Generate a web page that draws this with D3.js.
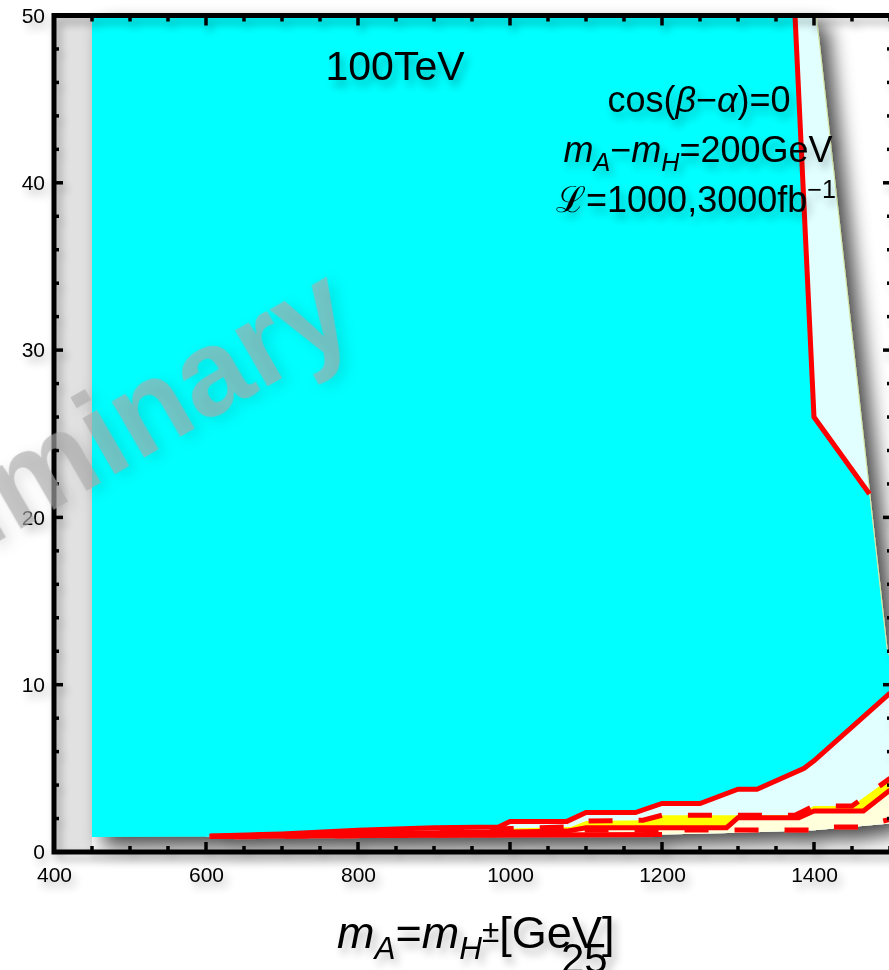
<!DOCTYPE html>
<html>
<head>
<meta charset="utf-8">
<script src="https://cdn.jsdelivr.net/npm/d3@7"></script>
<style>
  body { margin: 0; background: #fff; }
  svg { display: block; }
  text { font-family: "Liberation Sans", Arial, Helvetica, sans-serif; }
</style>
</head>
<body>
<svg id="chart" width="889" height="970"></svg>
<script>
// ---- axis setup -------------------------------------------------------
const xDomain = [400, 1500];        // m_A = m_H± [GeV]
const yDomain = [0, 50];            // tan β
const xMajorTicks = [400, 600, 800, 1000, 1200, 1400];
const yMajorTicks = [0, 10, 20, 30, 40, 50];

// ---- exclusion regions -------------------------------------------------
const regionLeftMass = 450;
// upper-right edge of the 1000 fb^-1 region
const innerEdgeM = [1375, 1400, 1473];
const innerEdgeT = [50, 26, 21.4];
// upper-right edge of the 3000 fb^-1 region
const outerEdgeM = [1403, 1496, 1500];
const outerEdgeT = [50, 12.2, 11.6];
// lower edge of the scanned area
const bottomEdgeM = [450, 600, 1000, 1200, 1300, 1400, 1500];
const bottomEdgeT = [0.9, 0.92, 1.0, 1.05, 1.15, 1.3, 1.7];

// ---- low tan β contours ------------------------------------------------
const upperSolidM = [605, 700, 800, 900, 985, 1000, 1075, 1100, 1165, 1200, 1250, 1300, 1325, 1387, 1400, 1500];
const upperSolidT = [0.96, 1.08, 1.3, 1.45, 1.5, 1.83, 1.83, 2.36, 2.36, 2.9, 2.9, 3.75, 3.75, 5.0, 5.45, 9.5];
const upperDashedM = [605, 800, 1000, 1080, 1100, 1175, 1200, 1375, 1400, 1450, 1500];
const upperDashedT = [0.93, 1.15, 1.4, 1.5, 1.85, 1.9, 2.2, 2.2, 2.75, 2.75, 4.4];
const middleSolidM = [605, 800, 1000, 1075, 1100, 1285, 1300, 1380, 1400, 1465, 1500];
const middleSolidT = [0.93, 1.1, 1.2, 1.25, 1.45, 1.45, 2.05, 2.05, 2.45, 2.45, 3.7];
const lowerDashedM = [605, 1000, 1075, 1100, 1400, 1410, 1460, 1500];
const lowerDashedT = [0.9, 1.05, 1.15, 1.32, 1.32, 1.5, 1.5, 1.95];
const lowerSolidM = [605, 800, 1000, 1200];
const lowerSolidT = [0.92, 0.98, 1.02, 1.05];

const zip = (ms, ts) => ms.map((m, i) => [m, ts[i]]);
const from = (pts, m0) => pts.filter(p => p[0] >= m0);

const svg = d3.select("#chart");
const x = d3.scaleLinear().domain(xDomain).range([54, 890]);
const y = d3.scaleLinear().domain(yDomain).range([852, 15.5]);
const line = d3.line().x(d => x(d[0])).y(d => y(d[1]));
const poly = pts => line(pts) + "Z";

// ---- filters -----------------------------------------------------------
const defs = svg.append("defs");
function shadow(id, blur, dx, dy, op) {
  const f = defs.append("filter").attr("id", id)
    .attr("x", "-20%").attr("y", "-20%").attr("width", "150%").attr("height", "150%");
  f.append("feGaussianBlur").attr("in", "SourceAlpha").attr("stdDeviation", blur);
  f.append("feOffset").attr("dx", dx).attr("dy", dy);
  f.append("feComponentTransfer").append("feFuncA").attr("type", "linear").attr("slope", op);
  const m = f.append("feMerge");
  m.append("feMergeNode");
  m.append("feMergeNode").attr("in", "SourceGraphic");
}
shadow("plotShadow", 10, 11, 10, 0.72);
shadow("softShadow", 4, 4, 6, 0.3);
const haze = defs.append("filter").attr("id", "haze")
  .attr("x", "-20%").attr("y", "-20%").attr("width", "140%").attr("height", "140%");
haze.append("feGaussianBlur").attr("stdDeviation", 7);

// ---- background strip left of the scan --------------------------------
svg.append("rect")
  .attr("x", x(400)).attr("y", y(50))
  .attr("width", x(regionLeftMass) - x(400)).attr("height", y(0) - y(50))
  .attr("fill", "#e1e1e1");

// ---- filled regions + contour lines ------------------------------------
const plot = svg.append("g").attr("filter", "url(#plotShadow)");

const outerEdge = zip(outerEdgeM, outerEdgeT);
const innerEdge = zip(innerEdgeM, innerEdgeT);
const bottomEdge = zip(bottomEdgeM, bottomEdgeT);
const upperSolid = zip(upperSolidM, upperSolidT);
const upperDashed = zip(upperDashedM, upperDashedT);
const middleSolid = zip(middleSolidM, middleSolidT);
const lowerDashed = zip(lowerDashedM, lowerDashedT);
const lowerSolid = zip(lowerSolidM, lowerSolidT);

// 3000 fb^-1 region (light cyan)
const lightCyanPts = [[innerEdgeM[0], 50], ...outerEdge, ...from(bottomEdge, 600).reverse()];
plot.append("path").attr("d", poly(lightCyanPts)).attr("fill", "#e2ffff");

// light yellow below the middle contour
const lyPts = [...from(middleSolid, 1000), ...from(bottomEdge, 1000).reverse()];
plot.append("path").attr("d", poly(lyPts)).attr("fill", "#ffffdc");

// yellow band between dashed and middle contour
const yPts = [...from(upperDashed, 1000), ...from(middleSolid, 1000).reverse()];
plot.append("path").attr("d", poly(yPts)).attr("fill", "#ffff00");

// 1000 fb^-1 region (cyan)
const outerBelow = outerEdge.filter(p => p[1] < innerEdgeT[innerEdgeT.length - 1]);
const cyanPts = [
  [regionLeftMass, bottomEdgeT[0]], [regionLeftMass, 50],
  ...innerEdge, ...outerBelow,
  ...upperSolid.slice().reverse(),
  [upperSolidM[0], bottomEdgeT[1]]
];
plot.append("path").attr("d", poly(cyanPts)).attr("fill", "#00ffff");

// faint edge along the outer boundary
plot.append("path").attr("d", line(outerEdge))
  .attr("fill", "none").attr("stroke", "#d6e9a6").attr("stroke-width", 1);

// contour lines
const red = "#ff0000";
function contour(pts, dashed, offset) {
  const p = plot.append("path").attr("d", line(pts))
    .attr("fill", "none").attr("stroke", red).attr("stroke-width", 5)
    .attr("stroke-linejoin", "miter");
  if (dashed) p.attr("stroke-dasharray", "24,26").attr("stroke-dashoffset", offset || 0);
  return p;
}
contour(lowerSolid, false);
contour(lowerDashed, true, 25);
contour(middleSolid, false);
contour(upperDashed, true, 20);
// red line bounding the cyan region at large tan β
contour([...innerEdge], false);
contour(upperSolid, false);

// ---- frame and ticks ---------------------------------------------------
const frame = svg.append("g").attr("filter", "url(#softShadow)");
const fr = { x0: x(400), x1: x(1500) + 2, y0: y(50), y1: y(0) };
frame.append("path")
  .attr("d", `M${fr.x1 + 4},${fr.y0}H${fr.x0}V${fr.y1}H${fr.x1 + 4}`)
  .attr("fill", "none").attr("stroke", "#000").attr("stroke-width", 5);

const xMinor = d3.range(400, 1501, 50);
const yMinor = d3.range(0, 51, 2);
const tk = frame.append("g").attr("stroke", "#000").attr("stroke-width", 3.5);
xMinor.forEach(v => {
  const major = v % 200 === 0;
  const len = major ? 10 : 6;
  tk.append("line").attr("x1", x(v)).attr("x2", x(v)).attr("y1", fr.y1).attr("y2", fr.y1 - len);
  tk.append("line").attr("x1", x(v)).attr("x2", x(v)).attr("y1", fr.y0).attr("y2", fr.y0 + len);
});
yMinor.forEach(v => {
  const major = v % 10 === 0;
  const len = major ? 9 : 5;
  tk.append("line").attr("x1", fr.x0).attr("x2", fr.x0 + len).attr("y1", y(v)).attr("y2", y(v));
  tk.append("line").attr("x1", fr.x1).attr("x2", fr.x1 - len).attr("y1", y(v)).attr("y2", y(v));
});

// tick labels via d3 axes (domain line and tick lines hidden)
const xAxis = d3.axisBottom(x).tickValues(xMajorTicks).tickFormat(d3.format("d")).tickSize(0).tickPadding(0);
const gx = frame.append("g").attr("transform", `translate(0,${fr.y1 + 24})`).call(xAxis);
const yAxis = d3.axisLeft(y).tickValues(yMajorTicks).tickFormat(d3.format("d")).tickSize(0).tickPadding(0);
const gy = frame.append("g").attr("transform", `translate(${fr.x0 - 9},0)`).call(yAxis);
[gx, gy].forEach(g => {
  g.select(".domain").remove();
  g.selectAll("text").attr("font-size", 21).style("fill", "#000")
    .style("font-family", "'Liberation Sans', Arial, sans-serif");
});
gx.selectAll("text").attr("dy", "0.3em");

// ---- annotations -------------------------------------------------------
const ann = svg.append("g").attr("filter", "url(#softShadow)");

ann.append("text").attr("x", 395).attr("y", 80).attr("text-anchor", "middle")
  .attr("font-size", 41).style("fill", "#000").text("100TeV");

function rich(parent, xPos, yPos, size, anchor, parts) {
  const t = parent.append("text").attr("x", xPos).attr("y", yPos)
    .attr("font-size", size).attr("text-anchor", anchor).style("fill", "#000");
  parts.forEach(p => {
    const s = t.append("tspan").text(p.t);
    if (p.i) s.attr("font-style", "italic");
    if (p.sub) s.attr("font-size", size * 0.7).attr("dy", size * 0.25);
    if (p.sup) s.attr("font-size", size * 0.7).attr("dy", -size * 0.4);
    if (p.dy !== undefined) s.attr("dy", p.dy);
  });
  return t;
}
const annSize = 36;
rich(ann, 699, 112, annSize, "middle", [
  { t: "cos(" }, { t: "β", i: true }, { t: "−" }, { t: "α", i: true }, { t: ")=0" }
]);
rich(ann, 698, 162, annSize, "middle", [
  { t: "m", i: true }, { t: "A", i: true, sub: true },
  { t: "−", dy: -annSize * 0.25 }, { t: "m", i: true }, { t: "H", i: true, sub: true },
  { t: "=200GeV", dy: -annSize * 0.25 }
]);
rich(ann, 696, 212, annSize, "middle", [
  { t: "ℒ" }, { t: "=1000,3000fb" }, { t: "−1", sup: true }
]);

// x-axis title
const axSize = 45;
rich(ann, 337, 948, axSize, "start", [
  { t: "m", i: true }, { t: "A", i: true, sub: true },
  { t: "=", dy: -axSize * 0.25 }, { t: "m", i: true }, { t: "H", i: true, sub: true },
  { t: "±", sup: true, dy: -axSize * 0.38 }, { t: "[GeV]", dy: axSize * 0.13 }
]);
ann.append("text").attr("x", 561).attr("y", 973).attr("font-size", 42)
  .style("fill", "#000").text("25");

// ---- watermark ---------------------------------------------------------
const wm = svg.append("g").attr("transform", "translate(360,333) rotate(-30)");
wm.append("text")
  .attr("text-anchor", "end").attr("x", 4).attr("y", 6)
  .attr("font-size", 122).attr("font-weight", "bold")
  .style("fill", "#000").style("fill-opacity", 0.1)
  .attr("filter", "url(#haze)")
  .text("Preliminary");
wm.append("text")
  .attr("text-anchor", "end")
  .attr("font-size", 122).attr("font-weight", "bold")
  .style("fill", "rgb(170,170,170)").style("fill-opacity", 0.65)
  .text("Preliminary");
</script>
</body>
</html>
